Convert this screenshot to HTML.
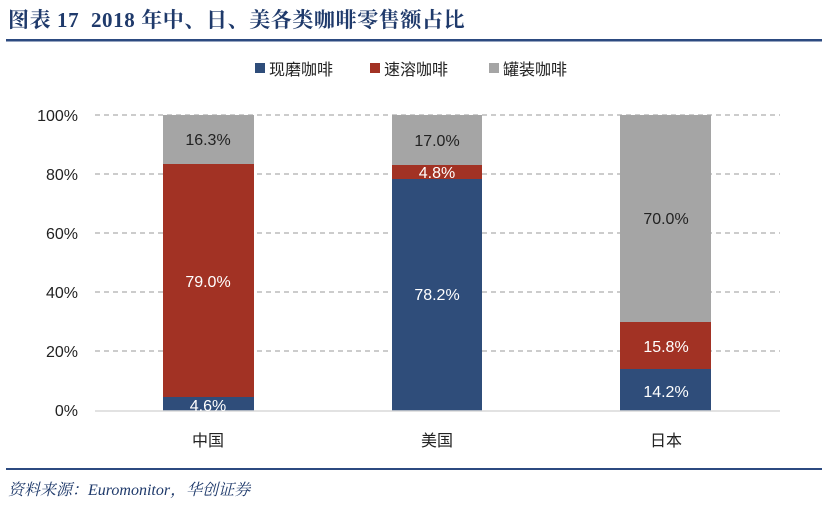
<!DOCTYPE html>
<html><head><meta charset="utf-8"><style>
body{margin:0;background:#fff;}
svg{display:block;font-family:"Liberation Sans","Noto Sans CJK SC",sans-serif;}
</style></head><body>
<svg width="822" height="506" viewBox="0 0 822 506" xmlns="http://www.w3.org/2000/svg">
<text x="8" y="27" font-family="'Liberation Serif','Noto Serif CJK SC',serif" font-weight="bold" font-size="21" letter-spacing="0.6" fill="#1f3a6b">图表 17 &#160;2018 年中、日、美各类咖啡零售额占比</text>
<rect x="6" y="39" width="816" height="2.5" fill="#2c4a80"/>
<rect x="255" y="63" width="10" height="10" fill="#2f4d7a"/>
<text x="269" y="75" font-size="16" fill="#222">现磨咖啡</text>
<rect x="370" y="63" width="10" height="10" fill="#a23224"/>
<text x="384" y="75" font-size="16" fill="#222">速溶咖啡</text>
<rect x="489" y="63" width="10" height="10" fill="#a5a5a5"/>
<text x="503" y="75" font-size="16" fill="#222">罐装咖啡</text>
<g stroke="#999" stroke-dasharray="5,4" stroke-width="1">
<line x1="95" y1="115" x2="780" y2="115"/><line x1="95" y1="174" x2="780" y2="174"/>
<line x1="95" y1="233" x2="780" y2="233"/><line x1="95" y1="292" x2="780" y2="292"/>
<line x1="95" y1="351" x2="780" y2="351"/>
</g>
<g font-size="16" fill="#222" text-anchor="end">
<text x="78" y="121">100%</text><text x="78" y="180">80%</text><text x="78" y="239">60%</text>
<text x="78" y="298">40%</text><text x="78" y="357">20%</text><text x="78" y="416">0%</text>
</g>
<g>
<rect x="163" y="115" width="91" height="49" fill="#a5a5a5"/>
<rect x="163" y="164" width="91" height="233" fill="#a23224"/>
<rect x="163" y="397" width="91" height="14" fill="#2f4d7a"/>
<rect x="392" y="115" width="90" height="50" fill="#a5a5a5"/>
<rect x="392" y="165" width="90" height="14" fill="#a23224"/>
<rect x="392" y="179" width="90" height="232" fill="#2f4d7a"/>
<rect x="620" y="115" width="91" height="207" fill="#a5a5a5"/>
<rect x="620" y="322" width="91" height="47" fill="#a23224"/>
<rect x="620" y="369" width="91" height="42" fill="#2f4d7a"/>
</g>
<line x1="95" y1="411" x2="780" y2="411" stroke="#d9d9d9" stroke-width="1.5"/>
<g font-size="16" text-anchor="middle">
<text x="208" y="145" fill="#222">16.3%</text>
<text x="208" y="287" fill="#fff">79.0%</text>
<text x="208" y="411" fill="#fff">4.6%</text>
<text x="437" y="146" fill="#222">17.0%</text>
<text x="437" y="178" fill="#fff">4.8%</text>
<text x="437" y="300" fill="#fff">78.2%</text>
<text x="666" y="224" fill="#222">70.0%</text>
<text x="666" y="352" fill="#fff">15.8%</text>
<text x="666" y="397" fill="#fff">14.2%</text>
</g>
<g font-size="16" fill="#222" text-anchor="middle">
<text x="208" y="446">中国</text><text x="437" y="446">美国</text><text x="666" y="446">日本</text>
</g>
<rect x="6" y="468" width="816" height="2" fill="#2c4a80"/>
<text x="8" y="495" font-family="'Liberation Serif','Noto Serif CJK SC',serif" font-style="italic" font-size="16" fill="#1f3a6b">资料来源：Euromonitor，华创证券</text>
</svg>
</body></html>
